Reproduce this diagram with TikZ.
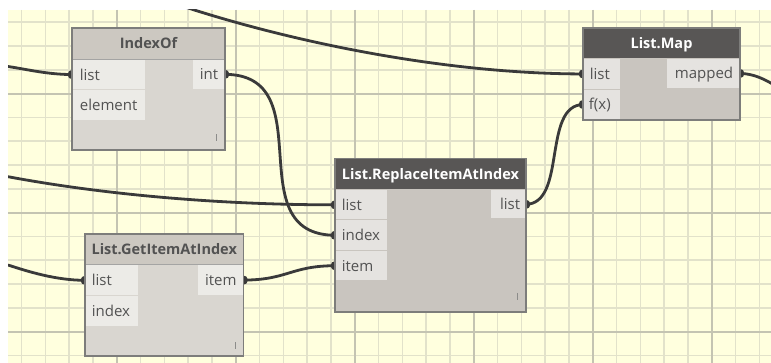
\documentclass[tikz,border=0pt]{standalone}
\usepackage{fontspec}
\setmainfont{Open Sans}
\usetikzlibrary{calc}

\pgfdeclarelayer{gridlayer}
\pgfdeclarelayer{wirelayer}
\pgfsetlayers{gridlayer,wirelayer,main}

\definecolor{canvas}{RGB}{255,255,222}
\definecolor{gridminor}{RGB}{226,226,202}
\definecolor{gridmajor}{RGB}{196,196,178}
\definecolor{wire}{RGB}{58,58,58}
\definecolor{lhead}{RGB}{204,200,193}
\definecolor{lbody}{RGB}{217,214,208}
\definecolor{lport}{RGB}{236,235,231}
\definecolor{dhead}{RGB}{88,86,85}
\definecolor{dbody}{RGB}{201,197,191}
\definecolor{dport}{RGB}{229,227,224}
\definecolor{nborder}{RGB}{125,125,123}
\definecolor{ltext}{RGB}{82,82,82}
\definecolor{markgray}{RGB}{140,140,138}

\begin{document}
\begin{tikzpicture}[x=1pt,y=-1pt,
  shell/.style={anchor=north west, inner sep=0pt, outer sep=0pt, draw=none},
  headbox/.style={anchor=north west, inner sep=0pt, outer sep=0pt, draw=none},
  portbox/.style={anchor=north west, inner sep=0pt, outer sep=0pt, draw=none},
  plabel/.style={font=\fontsize{15}{17}\selectfont, text=ltext, inner sep=0pt, anchor=base west},
  olabel/.style={font=\fontsize{15}{17}\selectfont, text=ltext, inner sep=0pt, anchor=base east},
  ltitle/.style={font=\fontsize{14.5}{17}\selectfont\bfseries, text=ltext, inner sep=0pt, anchor=base},
  dtitle/.style={font=\fontsize{14.5}{17}\selectfont\bfseries, text=white, inner sep=0pt, anchor=base},
  frame/.style={draw=nborder, line width=1.3pt},
  divider/.style={draw=nborder!70, line width=0.7pt},
  wireline/.style={draw=wire, line width=2.8pt},
  plug/.style={fill=wire},
  tick/.style={draw=markgray, line width=1pt}]

\useasboundingbox (0,0) rectangle (771,363);

% ---------- canvas and grid ----------
\begin{pgfonlayer}{gridlayer}
  \fill[white] (0,0) rectangle (771,363);
  \fill[canvas] (8,10) rectangle (771,363);
  \begin{scope}
    \clip (8,10) rectangle (771,363);
    \foreach \i in {0,...,32} {
      \draw[gridminor, line width=1.6pt] ({21.5+23.8*\i},10) -- ({21.5+23.8*\i},363);
    }
    \foreach \i in {0,...,14} {
      \draw[gridminor, line width=1.6pt] (8,{22.3+23.8*\i}) -- (771,{22.3+23.8*\i});
    }
    \foreach \i in {0,...,5} {
      \draw[gridmajor, line width=1.8pt] ({116.7+119*\i},10) -- ({116.7+119*\i},363);
    }
    \foreach \i in {0,...,2} {
      \draw[gridmajor, line width=1.8pt] (8,{93.7+119*\i}) -- (771,{93.7+119*\i});
    }
  \end{scope}
\end{pgfonlayer}

% ---------- IndexOf ----------
\node[shell, fill=lbody, minimum width=153pt, minimum height=122pt] (idx) at (72,28) {};
\node[headbox, fill=lhead, minimum width=153pt, minimum height=31pt] (idx-head) at (72,28) {};
\node[ltitle] (idx-title) at ($(idx-head.center)+(0,5.5)$) {IndexOf};
\node[portbox, fill=lport, minimum width=72.5pt, minimum height=29.5pt] (idx-list) at (72.7,59.8) {};
\node[portbox, fill=lport, minimum width=72.5pt, minimum height=29.5pt] (idx-element) at (72.7,90.3) {};
\node[portbox, fill=lport, minimum width=31.3pt, minimum height=29pt] (idx-int) at (193,59.8) {};
\node[plabel] (idx-list-t) at ($(idx-list.west)+(7,5.5)$) {list};
\node[plabel] (idx-element-t) at ($(idx-element.west)+(7,5.5)$) {element};
\node[olabel] (idx-int-t) at ($(idx-int.east)+(-6,5.5)$) {int};
\draw[divider] (idx-head.south west) -- (idx-head.south east);
\draw[tick] (216.7,134.5) -- (216.7,141);
\draw[frame] (idx.north west) rectangle (idx.south east);

% ---------- List.Map ----------
\node[shell, fill=dbody, minimum width=157pt, minimum height=92pt] (map) at (583,28) {};
\node[headbox, fill=dhead, minimum width=157pt, minimum height=30.5pt] (map-head) at (583,28) {};
\node[dtitle] (map-title) at ($(map-head.center)+(0,5.5)$) {List.Map};
\node[portbox, fill=dport, minimum width=36pt, minimum height=29.5pt] (map-list) at (583.7,59.2) {};
\node[portbox, fill=dport, minimum width=36pt, minimum height=29.8pt] (map-fx) at (583.7,89.6) {};
\node[portbox, fill=dport, minimum width=72.3pt, minimum height=28.5pt] (map-mapped) at (667,59.2) {};
\node[plabel] (map-list-t) at ($(map-list.west)+(6,5.5)$) {list};
\node[plabel] (map-fx-t) at ($(map-fx.west)+(5,5.5)$) {f(x)};
\node[olabel] (map-mapped-t) at ($(map-mapped.east)+(-6,5.5)$) {mapped};
\draw[frame] (map.north west) rectangle (map.south east);

% ---------- List.ReplaceItemAtIndex ----------
\node[shell, fill=dbody, minimum width=191pt, minimum height=153.5pt] (rep) at (335,158.5) {};
\node[headbox, fill=dhead, minimum width=191pt, minimum height=31pt] (rep-head) at (335,158.5) {};
\node[dtitle] (rep-title) at ($(rep-head.center)+(0,5.5)$) {List.ReplaceItemAtIndex};
\node[portbox, fill=dport, minimum width=51.5pt, minimum height=29.3pt] (rep-list) at (335.7,190.2) {};
\node[portbox, fill=dport, minimum width=51.5pt, minimum height=30pt] (rep-index) at (335.7,220.3) {};
\node[portbox, fill=dport, minimum width=51.5pt, minimum height=29.2pt] (rep-item) at (335.7,251.1) {};
\node[portbox, fill=dport, minimum width=34.3pt, minimum height=28.3pt] (rep-out) at (491,190.2) {};
\node[plabel] (rep-list-t) at ($(rep-list.west)+(6,5.5)$) {list};
\node[plabel] (rep-index-t) at ($(rep-index.west)+(6,5.5)$) {index};
\node[plabel] (rep-item-t) at ($(rep-item.west)+(6,5.5)$) {item};
\node[olabel] (rep-out-t) at ($(rep-out.east)+(-5,5.5)$) {list};
\draw[tick] (517.5,293) -- (517.5,300);
\draw[frame] (rep.north west) rectangle (rep.south east);

% ---------- List.GetItemAtIndex ----------
\node[shell, fill=lbody, minimum width=158.5pt, minimum height=122pt] (get) at (85,234) {};
\node[headbox, fill=lhead, minimum width=158.5pt, minimum height=30.5pt] (get-head) at (85,234) {};
\node[ltitle] (get-title) at ($(get-head.center)+(0,5.5)$) {List.GetItemAtIndex};
\node[portbox, fill=lport, minimum width=52pt, minimum height=30.3pt] (get-list) at (85.7,265.2) {};
\node[portbox, fill=lport, minimum width=52pt, minimum height=29.7pt] (get-index) at (85.7,296.3) {};
\node[portbox, fill=lport, minimum width=44.8pt, minimum height=29.8pt] (get-item) at (198,265.2) {};
\node[plabel] (get-list-t) at ($(get-list.west)+(6,5.5)$) {list};
\node[plabel] (get-index-t) at ($(get-index.west)+(6,5.5)$) {index};
\node[olabel] (get-item-t) at ($(get-item.east)+(-6,5.5)$) {item};
\draw[divider] (get-head.south west) -- (get-head.south east);
\draw[tick] (235,342) -- (235,349);
\draw[frame] (get.north west) rectangle (get.south east);

% ---------- free wire ends beyond the visible canvas ----------
\coordinate (in-a) at (8,66.5);
\coordinate (in-b) at (150,-5);
\coordinate (in-c) at (8,176.7);
\coordinate (in-d) at (8,265);
\coordinate (out-a) at (830,110);

% ---------- wires ----------
\begin{pgfonlayer}{wirelayer}
  \begin{scope}
    \clip (8,10) rectangle (771,363);
    \draw[wireline] (in-a) .. controls +(20,3) and +(-25,0) .. (idx-list.west);
    \draw[wireline] (in-b) .. controls +(110,40) and +(-153,0) .. (map-list.west);
    \draw[wireline] (idx-int.east) .. controls +(100,0) and +(-100,0) .. (rep-index.west);
    \draw[wireline] (in-c) .. controls +(80,15) and +(-133,0) .. (rep-list.west);
    \draw[wireline] (in-d) .. controls +(20,6.5) and +(-30,0) .. (get-list.west);
    \draw[wireline] (get-item.east) .. controls +(45,0) and +(-45,0) .. (rep-item.west);
    \draw[wireline] (rep-out.east) .. controls +(42,0) and +(-42,0) .. (map-fx.west);
    \draw[wireline] (map-mapped.east) .. controls +(35,0) and +(-35,0) .. (out-a);
    % plugs where wires meet ports
    \foreach \p in {idx-list.west, map-list.west, map-fx.west, rep-list.west,
                    rep-index.west, rep-item.west, get-list.west,
                    idx-int.east, rep-out.east, get-item.east, map-mapped.east} {
      \fill[plug] (\p) ellipse (5.2pt and 4.8pt);
    }
  \end{scope}
\end{pgfonlayer}
\end{tikzpicture}
\end{document}
